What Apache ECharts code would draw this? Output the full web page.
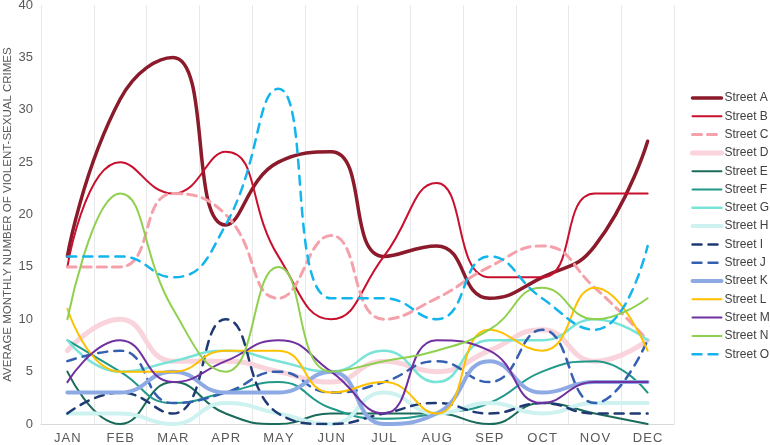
<!DOCTYPE html>
<html>
<head>
<meta charset="utf-8">
<script src="https://cdn.jsdelivr.net/npm/echarts@6/dist/echarts.min.js"></script>
<style>html,body{margin:0;padding:0;background:#fff}#c{width:770px;height:445px}</style>
</head>
<body>
<div id="c"></div>
<script>
const months = ['JAN','FEB','MAR','APR','MAY','JUN','JUL','AUG','SEP','OCT','NOV','DEC'];
const streetA = [16,31,35,19,25,26,16,17,12,14,17,27];
const streetB = [15,25,22,26,16,10,16,23,14,14,22,22];
const streetC = [15,15,22,20,12,18,10,12,15,17,13,8];
const streetD = [7,10,6,6,5,4,6,5,7,9,6,8];
const streetE = [5,0,4,1,0,1,1,1,0,2,1,0];
const streetF = [8,5,2,3,4,1.5,0.5,1,2,5,6,3];
const streetG = [8,5,6,7,6,5,7,4,8,8,10,8];
const streetH = [1,1,0,2,1,0,3,1,2,1,2,2];
const streetI = [1,3,1,10,1,0,1,2,1,2,1,1];
const streetJ = [6,7,2,3,5,3,4,6,4,9,2,8];
const streetK = [3,3,5,3,3,5,0,1,6,3,4,4];
const streetL = [11,5,5,7,7,3,4,1,9,7,13,7];
const streetM = [4,8,4,6,8,5,1,8,7,2,4,4];
const streetN = [10,22,11,5,15,5,6,7,9,13,10,12];
const streetO = [16,16,14,19,32,12,12,10,16,12,9,17];
const yTicks = [0,5,10,15,20,25,30,35,40];

const defs = [
  ['Street A', streetA, '#8b1a2b', 3.5, 'solid'],
  ['Street B', streetB, '#c8102e', 2, 'solid'],
  ['Street C', streetC, '#f4a1ab', 3, [9,6]],
  ['Street D', streetD, '#fad4dc', 5, 'solid'],
  ['Street E', streetE, '#1b6b5b', 2, 'solid'],
  ['Street F', streetF, '#21998a', 2, 'solid'],
  ['Street G', streetG, '#79e3d8', 2.5, 'solid'],
  ['Street H', streetH, '#cdf2f0', 4, 'solid'],
  ['Street I', streetI, '#1f3a73', 2.5, [9,7]],
  ['Street J', streetJ, '#3560b0', 2.5, [9,7]],
  ['Street K', streetK, '#8eaae4', 4, 'solid'],
  ['Street L', streetL, '#ffc000', 2, 'solid'],
  ['Street M', streetM, '#7030a0', 2, 'solid'],
  ['Street N', streetN, '#8fd14f', 2, 'solid'],
  ['Street O', streetO, '#14b4ec', 2.5, [9,7]]
];

const chart = echarts.init(document.getElementById('c'), null, {renderer:'canvas'});
chart.setOption({
  backgroundColor: '#fff',
  animation: false,
  grid: {left: 41, right: 96, top: 5, bottom: 21, containLabel: false, outerBoundsMode: 'none'},
  legend: {
    orient: 'vertical', left: 685, top: 87, width: 85,
    itemWidth: 29, itemHeight: 14, itemGap: 6.3,
    itemStyle: {opacity: 0, borderWidth: 0},
    textStyle: {fontFamily: 'Liberation Sans, Arial', fontSize: 12, color: '#404040', padding: [0,0,0,-2], width: 60, overflow: 'none'},
    data: defs.map(d => ({name: d[0], lineStyle: {width: d[3], color: d[2], type: d[4]}}))
  },
  xAxis: {
    type: 'category', data: months, boundaryGap: true,
    axisLine: {lineStyle: {color: '#d9d9d9'}},
    axisTick: {show: false},
    splitLine: {show: true, lineStyle: {color: '#e8e8e8'}},
    axisLabel: {fontFamily: 'Liberation Sans, Arial', fontSize: 13, color: '#595959', margin: 8,
      formatter: v => v.split('').join('\u200A')}
  },
  yAxis: {
    type: 'value', min: 0, max: 40, interval: 5,
    axisLine: {show: false}, axisTick: {show: false}, splitLine: {show: false},
    axisLabel: {fontFamily: 'Liberation Sans, Arial', fontSize: 13, color: '#595959', margin: 8},
    name: 'AVERAGE MONTHLY NUMBER OF VIOLENT-SEXUAL CRIMES',
    nameLocation: 'middle', nameRotate: 90, nameGap: 27, nameMoveOverlap: false,
    nameTextStyle: {fontFamily: 'Liberation Sans, Arial', fontSize: 11.5, color: '#595959'}
  },
  series: defs.map(d => ({
    name: d[0], type: 'line', data: d[1], smooth: 0.5,
    symbol: 'none', showSymbol: false,
    itemStyle: {color: d[2]},
    lineStyle: {color: d[2], width: d[3], type: d[4], cap: 'round'}
  }))
});
</script>
</body>
</html>
